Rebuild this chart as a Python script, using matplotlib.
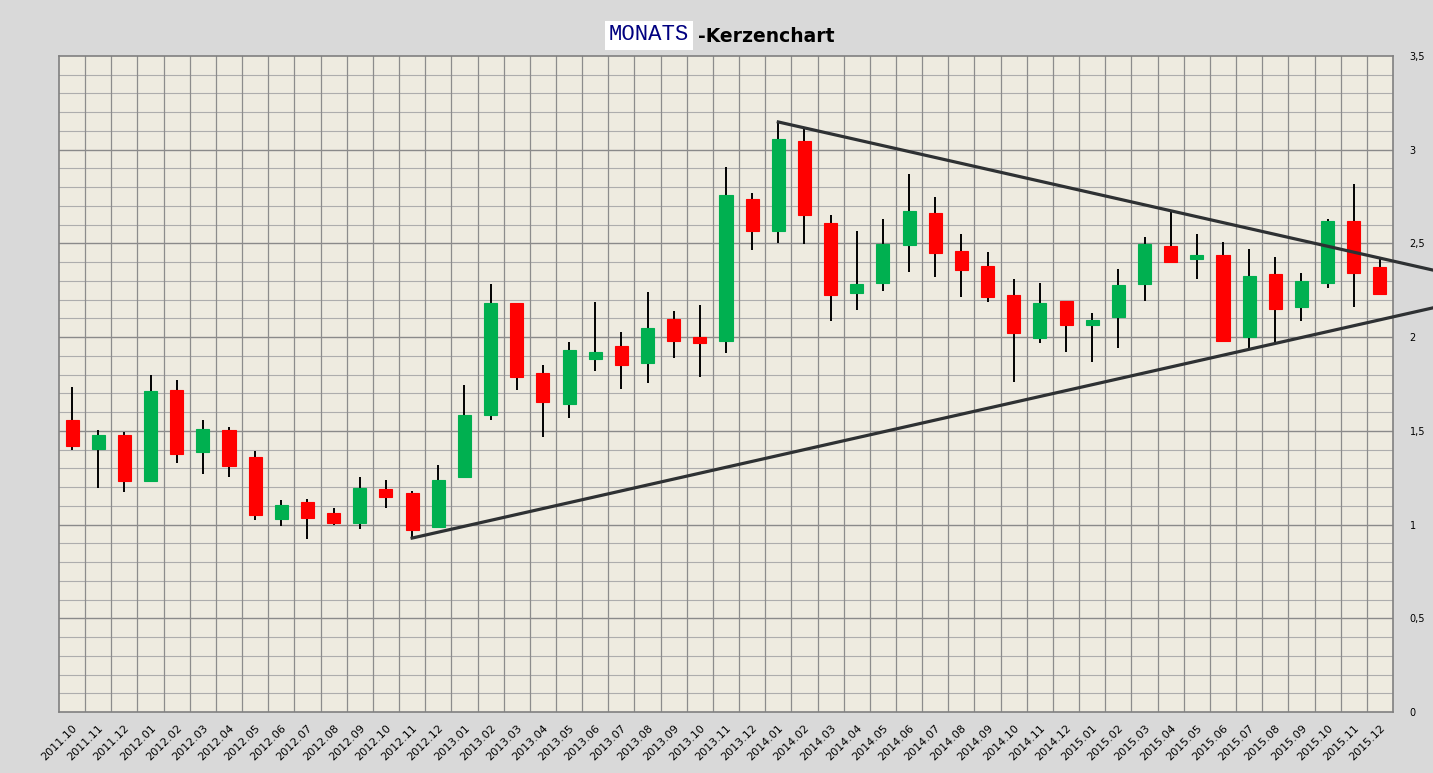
import matplotlib
matplotlib.use("Agg")
import matplotlib.pyplot as plt
from matplotlib.patches import Rectangle
import numpy as np

months = ["2011.10", "2011.11", "2011.12",
          "2012.01", "2012.02", "2012.03", "2012.04", "2012.05", "2012.06",
          "2012.07", "2012.08", "2012.09", "2012.10", "2012.11", "2012.12",
          "2013.01", "2013.02", "2013.03", "2013.04", "2013.05", "2013.06",
          "2013.07", "2013.08", "2013.09", "2013.10", "2013.11", "2013.12",
          "2014.01", "2014.02", "2014.03", "2014.04", "2014.05", "2014.06",
          "2014.07", "2014.08", "2014.09", "2014.10", "2014.11", "2014.12",
          "2015.01", "2015.02", "2015.03", "2015.04", "2015.05", "2015.06",
          "2015.07", "2015.08", "2015.09", "2015.10", "2015.11", "2015.12"]

opens = [1.56, 1.405, 1.48, 1.23, 1.72, 1.385, 1.505, 1.36, 1.032,
         1.12, 1.062, 1.01, 1.19, 1.17, 0.985,
         1.254, 1.583, 2.182, 1.807, 1.645, 1.886,
         1.953, 1.864, 2.097, 1.999, 1.981, 2.737,
         2.568, 3.047, 2.607, 2.238, 2.291, 2.494,
         2.662, 2.460, 2.380, 2.225, 1.994, 2.192,
         2.064, 2.106, 2.282, 2.485, 2.416, 2.437,
         2.003, 2.336, 2.163, 2.291, 2.618, 2.373]
closes = [1.42, 1.478, 1.235, 1.71, 1.378, 1.51, 1.315, 1.053, 1.105,
          1.037, 1.010, 1.197, 1.149, 0.973, 1.238,
          1.585, 2.182, 1.789, 1.656, 1.932, 1.919,
          1.853, 2.047, 1.981, 1.971, 2.757, 2.568,
          3.058, 2.654, 2.225, 2.284, 2.497, 2.673,
          2.451, 2.360, 2.212, 2.024, 2.181, 2.064,
          2.090, 2.277, 2.497, 2.400, 2.432, 1.981,
          2.325, 2.152, 2.298, 2.618, 2.344, 2.232]
highs = [1.736, 1.505, 1.494, 1.798, 1.772, 1.558, 1.521, 1.393, 1.131,
         1.137, 1.089, 1.254, 1.238, 1.179, 1.318,
         1.745, 2.284, 2.182, 1.850, 1.972, 2.186,
         2.026, 2.240, 2.138, 2.170, 2.910, 2.767,
         3.155, 3.113, 2.652, 2.567, 2.631, 2.871,
         2.748, 2.551, 2.455, 2.311, 2.288, 2.192,
         2.128, 2.362, 2.533, 2.670, 2.549, 2.506,
         2.468, 2.427, 2.340, 2.628, 2.816, 2.416]
lows = [1.398, 1.197, 1.176, 1.229, 1.330, 1.272, 1.256, 1.026, 0.994,
        0.925, 1.000, 0.978, 1.090, 0.926, 0.984,
        1.254, 1.560, 1.720, 1.467, 1.570, 1.821,
        1.725, 1.757, 1.891, 1.789, 1.913, 2.465,
        2.501, 2.497, 2.088, 2.147, 2.248, 2.350,
        2.323, 2.212, 2.190, 1.759, 1.967, 1.920,
        1.870, 1.941, 2.192, 2.400, 2.309, 1.973,
        1.941, 1.967, 2.088, 2.260, 2.163, 2.227]

# trend lines (x in month index, y in price)
upper_x = [27.0, 52.02]
upper_y = [3.148, 2.358]
lower_x = [13.0, 52.02]
lower_y = [0.928, 2.156]

ytick_vals = [0, 0.5, 1, 1.5, 2, 2.5, 3, 3.5]
ytick_labels = ["0", "0,5", "1", "1,5", "2", "2,5", "3", "3,5"]

W, H = 1433, 773
fig = plt.figure(figsize=(W / 100, H / 100), dpi=100)
fig.patch.set_facecolor("#D9D9D9")
ax = fig.add_axes([59 / W, 1 - 712 / H, (1393 - 59) / W, (712 - 56) / H])
ax.set_facecolor("#EEEBE0")

n = len(months)
ax.set_xlim(-0.5, n - 0.5)
ax.set_ylim(0, 3.5)

# grid
for yv in np.arange(0.1, 3.5, 0.1):
    major = abs(yv * 2 - round(yv * 2)) < 1e-6
    ax.axhline(yv, color="#8A8A8A" if major else "#ADADAD", lw=1.0 if major else 0.8, zorder=1)
for xv in np.arange(0.5, n - 0.5, 1):
    ax.axvline(xv, color="#8C8C8C", lw=0.9, zorder=1)

x = np.arange(n)
for i in range(n):
    o, c, h, l = opens[i], closes[i], highs[i], lows[i]
    col = "#00B050" if c >= o else "#FF0000"
    ax.plot([x[i], x[i]], [l, h], color="black", lw=1.4, zorder=2, solid_capstyle="butt")
    bottom = min(o, c)
    height = max(abs(c - o), 0.02)
    ax.add_patch(Rectangle((x[i] - 0.25, bottom), 0.5, height, facecolor=col,
                           edgecolor=col, lw=0.8, zorder=3))

ax.plot(upper_x, upper_y, color="#2E3133", lw=2.3, clip_on=False, zorder=5)
ax.plot(lower_x, lower_y, color="#2E3133", lw=2.3, clip_on=False, zorder=5)

ax.set_xticks(x)
ax.set_xticklabels(months, rotation=45, ha="right", va="top", rotation_mode="anchor",
                   fontsize=8, family="DejaVu Sans")
ax.tick_params(axis="x", length=0, pad=8)
ax.yaxis.tick_right()
ax.set_yticks(ytick_vals)
ax.set_yticklabels(ytick_labels, fontsize=7, family="DejaVu Sans")
ax.tick_params(axis="y", length=0, pad=12)
for s in ax.spines.values():
    s.set_color("#808080")
    s.set_linewidth(1.2)

# title
fig.text(698 / W, 1 - 37 / H, "-Kerzenchart", fontsize=13.5, fontweight="bold",
         ha="left", va="center", color="black", family="DejaVu Sans")
fig.text(649 / W, 1 - 35 / H, "MONATS", fontsize=16, ha="center", va="center",
         color="#000080", family="Liberation Mono",
         bbox=dict(boxstyle="square,pad=0.18", facecolor="white", edgecolor="none"))

fig.savefig("out.png", dpi=100, facecolor=fig.get_facecolor())
